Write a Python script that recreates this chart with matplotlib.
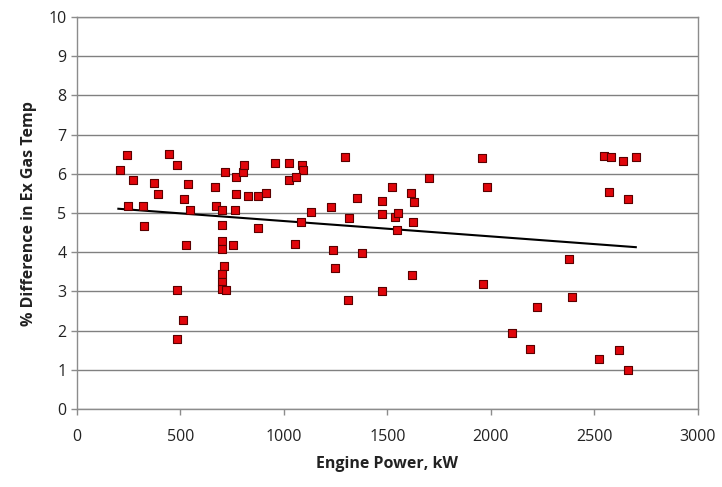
import numpy as np
import matplotlib.pyplot as plt

# engine power (kW) vs % difference in exhaust gas temperature
power = [208, 240, 272, 248, 320, 325, 372, 393, 444, 481, 517, 536, 544, 528,
         485, 510, 485, 667, 670, 700, 699, 700, 703, 752, 712, 699, 699, 699,
         720, 717, 770, 802, 808, 770, 765, 824, 876, 873, 913,
         957, 1026, 1085, 1093, 1023, 1058, 1084, 1052, 1132, 1293, 1227, 1235,
         1245, 1314, 1353, 1377, 1311, 1473, 1473, 1473, 1522, 1539, 1549, 1544,
         1614, 1630, 1622, 1620, 1699,
         1955, 1979, 1960, 2103, 2190, 2222, 2378, 2391, 2523, 2548, 2578, 2638,
         2700, 2572, 2660, 2621, 2660]
diff = [6.10, 6.49, 5.85, 5.17, 5.17, 4.66, 5.76, 5.48, 6.50, 6.22, 5.36, 5.74, 5.08, 4.18,
        3.04, 2.27, 1.78, 5.66, 5.19, 5.08, 4.69, 4.29, 4.09, 4.19, 3.66, 3.45, 3.25, 3.06,
        3.04, 6.05, 5.91, 6.06, 6.22, 5.48, 5.08, 5.44, 5.44, 4.63, 5.52,
        6.28, 6.27, 6.23, 6.09, 5.85, 5.91, 4.78, 4.21, 5.03, 6.42, 5.16, 4.06,
        3.59, 4.87, 5.38, 3.99, 2.78, 5.31, 4.97, 3.00, 5.67, 4.91, 4.99, 4.58,
        5.51, 5.29, 4.76, 3.43, 5.89,
        6.40, 5.67, 3.20, 1.93, 1.52, 2.60, 3.82, 2.87, 1.28, 6.46, 6.42, 6.33,
        6.42, 5.55, 5.36, 1.51, 1.00]

# linear trend line end points
trend_x = [200, 2700]
trend_y = [5.11, 4.13]

plt.rcParams['font.family'] = ['Open Sans', 'DejaVu Sans']

fig = plt.figure(figsize=(7.22, 4.87), dpi=100)
ax = fig.add_axes([0.1066, 0.160, 0.860, 0.805])

ax.yaxis.grid(True, color='#808080', linewidth=1.0, linestyle='-')
ax.set_axisbelow(True)

ax.plot(trend_x, trend_y, color='black', linewidth=1.5, zorder=2)
ax.scatter(power, diff, marker='s', s=38, facecolor='#e0060b',
           edgecolor='#5a0000', linewidth=0.8, zorder=3)

ax.set_xlim(0, 3000)
ax.set_ylim(0, 10)
ax.set_xticks(np.arange(0, 3001, 500))
ax.set_yticks(np.arange(0, 11, 1))

for s in ax.spines.values():
    s.set_color('#8c8c8c')
    s.set_linewidth(1.0)

ax.tick_params(axis='both', colors='#8c8c8c', length=4, width=1,
               labelsize=11.5, labelcolor='#222222')
ax.tick_params(axis='x', pad=10)

ax.set_xlabel('Engine Power, kW', fontsize=11.5, fontweight='bold',
              color='#222222', labelpad=8)
ax.set_ylabel('% Difference in Ex Gas Temp', fontsize=11.5, fontweight='bold',
              color='#222222', labelpad=8)

plt.savefig('out.png', dpi=100)
